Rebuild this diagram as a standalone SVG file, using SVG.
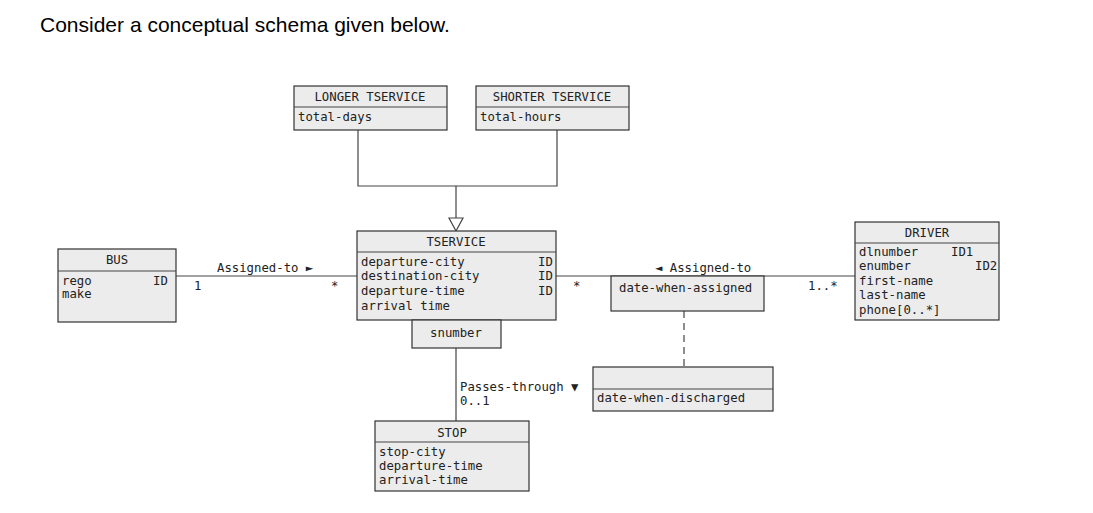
<svg xmlns="http://www.w3.org/2000/svg" width="1093" height="513" viewBox="0 0 1093 513">
<style>
.b{fill:#ececec;stroke:#333;stroke-width:1.2}
.l{stroke:#444;stroke-width:1.2;fill:none}
text{font-family:"DejaVu Sans Mono",monospace;font-size:12.3px;fill:#222}
.c{text-anchor:middle}
.t{font-family:"Liberation Sans",Arial,sans-serif;font-size:21px;fill:#000}
</style>
<rect width="1093" height="513" fill="#fff"/>
<text class="t" x="40" y="32">Consider a conceptual schema given below.</text>
<g id="connectors">
<path class="l" d="M358 130V186H557V130M456 186V218"/>
<polygon points="449,218 463,218 456,231" fill="#fff" stroke="#444" stroke-width="1.2"/>
<path class="l" d="M176 276H357M556 276H855M456 348V421"/>
<path class="l" d="M684 311V367" stroke-dasharray="7,5"/>
<text x="217" y="272">Assigned-to ►</text>
<text x="194" y="290">1</text>
<text x="331" y="290">*</text>
<text x="573" y="290">*</text>
<text x="655" y="272">◄ Assigned-to</text>
<text x="808" y="290">1..*</text>
<text x="460" y="391">Passes-through ▼</text>
<text x="460" y="405">0..1</text>
</g>
<g id="longer"><rect class="b" x="294" y="86" width="153" height="44"/><path class="l" d="M294 107H447"/>
<text class="c" x="370" y="101">LONGER TSERVICE</text><text x="298" y="121">total-days</text></g>
<g id="shorter"><rect class="b" x="476" y="86" width="153" height="44"/><path class="l" d="M476 107H629"/>
<text class="c" x="552" y="101">SHORTER TSERVICE</text><text x="480" y="121">total-hours</text></g>
<g id="tservice"><rect class="b" x="357" y="231" width="199" height="89"/><path class="l" d="M357 252H556"/>
<text class="c" x="456" y="246">TSERVICE</text>
<text x="361" y="266">departure-city</text><text x="361" y="280">destination-city</text><text x="361" y="295">departure-time</text><text x="361" y="310">arrival time</text>
<text x="538" y="266">ID</text><text x="538" y="280">ID</text><text x="538" y="295">ID</text></g>
<g id="snumber"><rect class="b" x="412" y="320" width="89" height="28"/><text class="c" x="456" y="337">snumber</text></g>
<g id="bus"><rect class="b" x="58" y="249" width="118" height="73"/><path class="l" d="M58 271H176"/>
<text class="c" x="117" y="264">BUS</text><text x="62" y="285">rego</text><text x="62" y="298">make</text><text x="153" y="285">ID</text></g>
<g id="stop"><rect class="b" x="375" y="421" width="154" height="70"/><path class="l" d="M375 442H529"/>
<text class="c" x="452" y="437">STOP</text><text x="379" y="456">stop-city</text><text x="379" y="470">departure-time</text><text x="379" y="484">arrival-time</text></g>
<g id="assigned"><rect class="b" x="611" y="276" width="153" height="35"/><text x="619" y="292">date-when-assigned</text></g>
<g id="discharged"><rect class="b" x="593" y="367" width="180" height="44"/><path class="l" d="M593 389H773"/><text x="597" y="402">date-when-discharged</text></g>
<g id="driver"><rect class="b" x="855" y="222" width="144" height="98"/><path class="l" d="M855 243H999"/>
<text class="c" x="927" y="237">DRIVER</text>
<text x="859" y="256">dlnumber</text><text x="951" y="256">ID1</text>
<text x="859" y="270">enumber</text><text x="975" y="270">ID2</text>
<text x="859" y="285">first-name</text><text x="859" y="299">last-name</text><text x="859" y="314">phone[0..*]</text></g>
</svg>
